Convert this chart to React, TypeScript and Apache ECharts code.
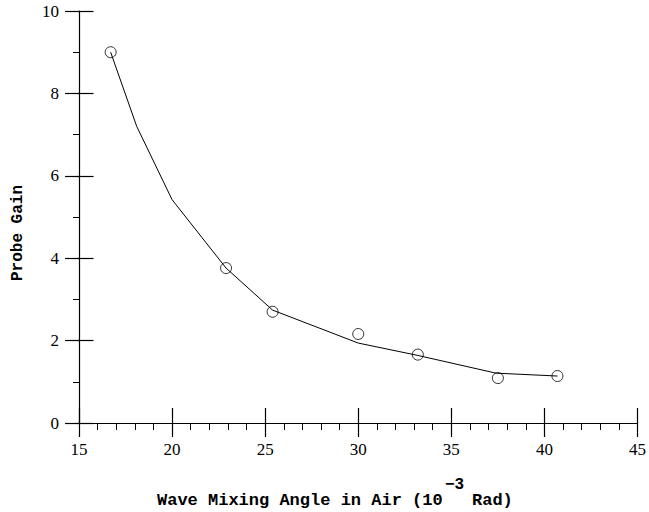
import React, { useEffect, useRef } from "react";
import * as echarts from "echarts";

// Measured points (x: wave mixing angle, 1e-3 rad; y: probe gain)
const measuredX = [16.7, 22.9, 25.4, 30.0, 33.2, 37.5, 40.7];
const measuredY = [9.0, 3.76, 2.7, 2.16, 1.66, 1.09, 1.14];

// Fitted curve drawn through the data
const curveX = [16.7, 18.1, 20.0, 22.9, 25.4, 30.0, 33.2, 37.4, 40.7];
const curveY = [9.0, 7.2, 5.42, 3.76, 2.74, 1.94, 1.64, 1.21, 1.14];

const xTitle = "Wave Mixing Angle in Air (10";
const xTitleExp = "\u22123";
const xTitleUnit = "Rad)";
const yTitle = "Probe Gain";

export default function App() {
  const ref = useRef<HTMLDivElement>(null);
  useEffect(() => {
    if (!ref.current) return;
    const chart = echarts.init(ref.current, null, { renderer: "svg" });
    const labelFont = {
      color: "#000",
      fontFamily: "Liberation Serif",
      fontSize: 17,
    };
    const axisLine = { show: true, lineStyle: { color: "#000", width: 1.2 } };
    chart.setOption({
      animation: false,
      backgroundColor: "#fff",
      grid: { left: 79, right: 10, top: 11, bottom: 89, containLabel: false },
      xAxis: [
        {
          type: "value",
          min: 15,
          max: 45,
          interval: 5,
          axisLine,
          axisTick: { show: true, length: 14, lineStyle: { color: "#000", width: 1.2 } },
          minorTick: { show: true, splitNumber: 5, length: 7, lineStyle: { color: "#000", width: 1 } },
          splitLine: { show: false },
          axisLabel: { ...labelFont, margin: 18 },
        },
        {
          type: "value",
          position: "bottom",
          min: 15,
          max: 45,
          interval: 5,
          axisLine: { show: false },
          axisTick: { show: true, inside: true, length: 15, lineStyle: { color: "#000", width: 1.2 } },
          splitLine: { show: false },
          axisLabel: { show: false },
        },
      ],
      yAxis: [
        {
          type: "value",
          position: "left",
          min: 0,
          max: 10,
          interval: 2,
          axisLine,
          axisTick: { show: true, length: 14, lineStyle: { color: "#000", width: 1.2 } },
          minorTick: { show: true, splitNumber: 2, length: 6, lineStyle: { color: "#000", width: 1 } },
          splitLine: { show: false },
          axisLabel: { ...labelFont, margin: 20 },
        },
        {
          type: "value",
          position: "right",
          offset: -560,
          min: 0,
          max: 10,
          interval: 2,
          axisLine: { show: false, onZero: false },
          axisTick: { show: true, inside: false, length: 16, lineStyle: { color: "#000", width: 1.2 } },
          splitLine: { show: false },
          axisLabel: { show: false },
        },
      ],
      series: [
        {
          type: "line",
          data: curveX.map((x, i) => [x, curveY[i]]),
          showSymbol: false,
          symbol: "none",
          lineStyle: { color: "#000", width: 1 },
          silent: true,
          z: 2,
        },
        {
          type: "scatter",
          data: measuredX.map((x, i) => [x, measuredY[i]]),
          symbol: "circle",
          symbolSize: 11,
          itemStyle: { color: "rgba(0,0,0,0)", borderColor: "#000", borderWidth: 1 },
          z: 3,
        },
      ],
      graphic: [
        {
          type: "text",
          left: 157,
          top: 492,
          style: {
            text: xTitle,
            fill: "#000",
            font: "bold 17px 'Liberation Mono'",
          },
        },
        {
          type: "text",
          left: 445,
          top: 477,
          style: {
            text: xTitleExp,
            fill: "#000",
            font: "bold 16px 'Liberation Mono'",
          },
        },
        {
          type: "text",
          left: 472,
          top: 492,
          style: {
            text: xTitleUnit,
            fill: "#000",
            font: "bold 17px 'Liberation Mono'",
          },
        },
        {
          type: "text",
          x: 18,
          y: 233,
          rotation: Math.PI / 2,
          style: {
            text: yTitle,
            fill: "#000",
            font: "bold 16px 'Liberation Mono'",
            align: "center",
            verticalAlign: "middle",
          },
        },
      ],
    });
    return () => chart.dispose();
  }, []);
  return <div ref={ref} style={{ width: 649, height: 512, position: "absolute", left: 0, top: 0 }} />;
}
